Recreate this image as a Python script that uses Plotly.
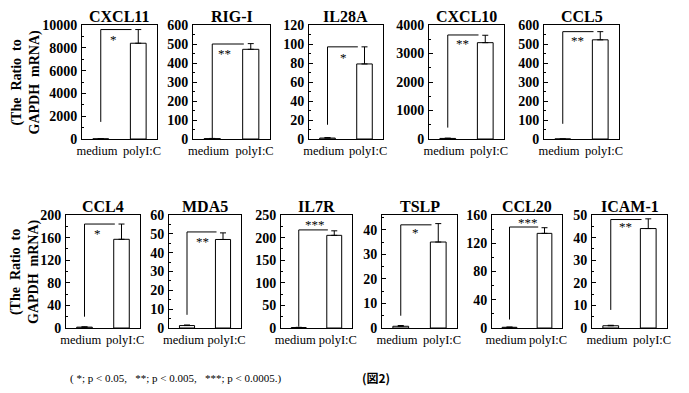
import plotly.graph_objects as go

W, H = 689, 393

# ---------------- data ----------------
genes = ["CXCL11", "RIG-I", "IL28A", "CXCL10", "CCL5",
         "CCL4", "MDA5", "IL7R", "TSLP", "CCL20", "ICAM-1"]
categories = ["medium", "polyI:C"]
medium_values = [15, 2, 1, 20, 0, 1.5, 1.3, 1, 0.7, 1, 1]
medium_errors = [10, 1, 0.5, 10, 0, 0.5, 0.3, 0.5, 0.3, 0.3, 0.2]
polyic_values = [8400, 472, 79, 3380, 522, 157, 47, 205, 35, 134, 44]
polyic_errors = [1200, 30, 18, 260, 43, 27, 3.5, 10, 7.5, 8, 4.3]
y_max = [10000, 600, 120, 4000, 600, 200, 60, 250, 46, 160, 50]
y_dtick = [2000, 100, 20, 1000, 100, 40, 10, 50, 10, 40, 10]
bracket_low = [1500, 5, 15, 400, 80, 20, 7, 3, 5, 12, 8]
bracket_high = [9600, 500, 97, 3650, 565, 184, 51, 217, 42, 143, 48]
significance = ["*", "**", "*", "**", "**", "*", "**", "***", "*", "***", "**"]
star_y = [8770, 452, 86, 3368, 516, 168, 45.7, 228, 38.8, 149, 45]
star_x = [0.35, 0.33, 0.42, 0.38, 0.39, 0.36, 0.44, 0.46, 0.38, 0.53, 0.38]
y_title = "(The  Ratio  to<br>GAPDH  mRNA)"
footnote = "( *; p &lt; 0.05,   **; p &lt; 0.005,   ***; p &lt; 0.0005.)"
figure_label = "(図2)"

# ---------------- layout (pixel frames) ----------------
frames_x = [(82, 157), (193, 270), (309, 383), (429, 504), (544, 619),
            (66, 140), (169, 241), (281, 352), (382, 457), (492, 562), (592, 667)]
row_y = [(25, 139)] * 5 + [(215, 328)] * 6

SERIF = "Liberation Serif"

def px(x):
    return x / W

def py(y):
    return 1 - y / H

fig = go.Figure()
layout = dict(
    width=W, height=H, margin=dict(l=0, r=0, t=0, b=0, autoexpand=False),
    paper_bgcolor="white", plot_bgcolor="white", showlegend=False,
    annotations=[],
)

for i, g in enumerate(genes):
    n = "" if i == 0 else str(i + 1)
    xa, ya = "x" + n, "y" + n
    x0, x1 = frames_x[i]
    yt, yb = row_y[i]
    layout["xaxis" + n] = dict(
        domain=[px(x0), px(x1)], anchor=ya, range=[-0.5, 1.5],
        tickvals=[-0.1, 1.1], ticktext=categories, ticks="", tickangle=0,
        automargin=False, ticklabelstandoff=0,
        showline=True, linecolor="black", linewidth=1, mirror=True,
        showgrid=False, zeroline=False, fixedrange=True,
        tickfont=dict(family=SERIF, size=12.5, color="black"),
    )
    layout["yaxis" + n] = dict(
        domain=[py(yb), py(yt)], anchor=xa, range=[0, y_max[i]],
        dtick=y_dtick[i], tick0=0, ticks="inside", ticklen=4,
        tickcolor="black", tickformat="d", automargin=False,
        ticklabelstandoff=1,
        minor=dict(dtick=y_dtick[i] / 2, ticks="inside", ticklen=2, tickcolor="black"),
        showline=True, linecolor="black", linewidth=1, mirror=True,
        showgrid=False, zeroline=False, fixedrange=True,
        tickfont=dict(family=SERIF, size=14, color="black", weight="bold"),
    )
    fig.add_trace(go.Bar(
        x=[0, 1], y=[medium_values[i], polyic_values[i]], width=0.42,
        marker=dict(color="white", line=dict(color="black", width=1)),
        error_y=dict(type="data", symmetric=False,
                     array=[medium_errors[i], polyic_errors[i]],
                     arrayminus=[0, 0], color="black", thickness=1, width=3),
        xaxis=xa, yaxis=ya,
    ))
    fig.add_trace(go.Scatter(
        x=[0, 0, 0.82], y=[bracket_low[i], bracket_high[i], bracket_high[i]],
        mode="lines", line=dict(color="black", width=1),
        xaxis=xa, yaxis=ya, hoverinfo="skip",
    ))
    layout["annotations"].append(dict(
        xref=xa, yref=ya, x=star_x[i], y=star_y[i], text=significance[i],
        xanchor="center", yanchor="middle",
        showarrow=False, font=dict(family=SERIF, size=13, color="black"),
    ))
    layout["annotations"].append(dict(
        xref="paper", yref="paper", x=px((x0 + x1) / 2), y=py(yt - 9),
        xanchor="center", yanchor="middle",
        text=g, showarrow=False,
        font=dict(family=SERIF, size=16, color="black", weight="bold"),
    ))

# y-axis titles
for cx, cy in [(25.5, 82), (25, 272)]:
    layout["annotations"].append(dict(
        xref="paper", yref="paper", x=px(cx), y=py(cy), text=y_title,
        xanchor="center", yanchor="middle",
        textangle=-90, showarrow=False,
        font=dict(family=SERIF, size=14, color="black", weight="bold"),
    ))

layout["annotations"].append(dict(
    xref="paper", yref="paper", x=px(68), y=py(378), xanchor="left",
    yanchor="middle",
    text=footnote, showarrow=False,
    font=dict(family=SERIF, size=11, color="black"),
))
layout["annotations"].append(dict(
    xref="paper", yref="paper", x=px(376), y=py(377),
    xanchor="center", yanchor="middle",
    text=figure_label, showarrow=False,
    font=dict(family="Noto Sans CJK JP", size=12, color="black", weight="bold"),
))

fig.update_layout(**layout)
fig.write_html("out.html", config={"displayModeBar": False},
               post_script="document.body.style.margin='0';")
